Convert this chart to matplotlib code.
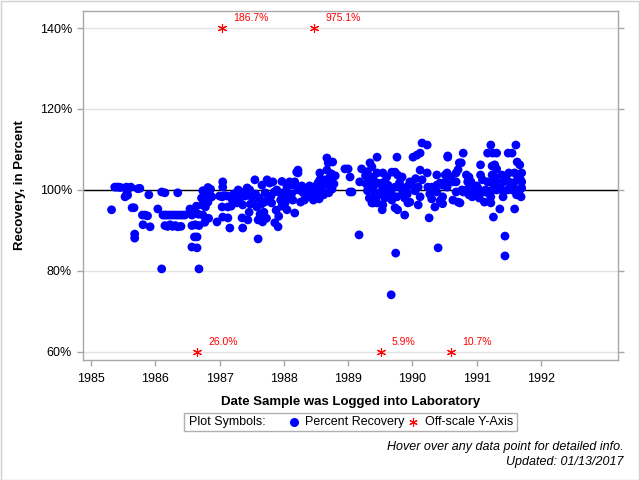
import matplotlib
matplotlib.use('Agg')
import matplotlib.pyplot as plt
from matplotlib.lines import Line2D
from matplotlib.patches import Rectangle

plt.rcParams['font.family'] = ['Liberation Sans', 'DejaVu Sans']

# recovery points: (decimal year, percent recovery)
years = [
    # 1985 - 1986
    1985.32, 1985.37, 1985.40, 1985.43, 1985.46, 1985.55, 1985.58, 1985.62, 1985.56, 1985.53,
    1985.57, 1985.64, 1985.67, 1985.68, 1985.68, 1985.73, 1985.76, 1985.80, 1985.84, 1985.88,
    1985.81, 1985.92, 1985.90, 1986.04,
    # 1986 - 1987
    1986.10, 1986.15, 1986.35, 1986.12, 1986.15, 1986.18, 1986.22, 1986.26, 1986.30, 1986.34,
    1986.38, 1986.42, 1986.46, 1986.15, 1986.19, 1986.23, 1986.27, 1986.31, 1986.35, 1986.40,
    1986.54, 1986.57, 1986.60, 1986.67, 1986.57, 1986.62, 1986.68, 1986.61, 1986.65, 1986.57,
    1986.65, 1986.10, 1986.68, 1986.64, 1986.73, 1986.74, 1986.72, 1986.76, 1986.78, 1986.80,
    1986.80, 1986.82, 1986.84, 1986.74, 1986.86, 1986.88, 1986.77, 1986.83, 1986.82, 1986.79,
    # 1987 - 1988
    1986.96, 1987.05, 1987.05, 1987.00, 1987.04, 1987.08, 1987.12, 1987.04, 1987.13, 1987.05,
    1987.13, 1987.16, 1987.29, 1987.27, 1987.36, 1987.35, 1987.44, 1987.36, 1987.47, 1987.50,
    1987.55, 1987.52, 1987.58, 1987.60, 1987.67, 1987.60, 1987.66, 1987.71, 1987.74, 1987.78,
    1987.83, 1987.75, 1987.81, 1987.86, 1987.91, 1987.89, 1987.94, 1987.20, 1987.22, 1987.40,
    1987.43, 1987.48, 1987.62, 1987.65, 1987.70, 1987.80, 1987.85, 1987.95, 1987.18, 1987.32,
    1987.38, 1987.46, 1987.56, 1987.63, 1987.69, 1987.73, 1987.88, 1987.92, 1987.97,
    # 1988 - 1989
    1987.97, 1988.05, 1988.02, 1987.99, 1988.02, 1988.05, 1988.17, 1988.14, 1988.17, 1988.22,
    1988.22, 1988.22, 1988.30, 1988.36, 1988.41, 1988.46, 1988.46, 1988.53, 1988.56, 1988.56,
    1988.67, 1988.69, 1988.76, 1988.67, 1988.72, 1988.67, 1988.72, 1988.61, 1988.28, 1988.33,
    1988.38, 1988.44, 1988.50, 1988.55, 1988.58, 1988.64, 1988.70, 1988.74, 1988.78, 1988.62,
    1988.26, 1988.09, 1988.09, 1988.14, 1988.20, 1988.12, 1988.32, 1988.40, 1988.49, 1988.60,
    1988.80, 1988.75, 1988.70,
    # 1989 - 1990.5
    1988.95, 1989.00, 1989.03, 1989.03, 1989.06, 1989.18, 1989.21, 1989.27, 1989.30, 1989.34,
    1989.37, 1989.31, 1989.39, 1989.34, 1989.42, 1989.37, 1989.45, 1989.46, 1989.28, 1989.30,
    1989.33, 1989.36, 1989.40, 1989.43, 1989.39, 1989.45, 1989.54, 1989.53, 1989.45, 1989.54,
    1989.60, 1989.53, 1989.57, 1989.62, 1989.60, 1989.53, 1989.64, 1989.68, 1989.57, 1989.68,
    1989.68, 1989.73, 1989.76, 1989.77, 1989.84, 1989.73, 1989.81, 1989.91, 1989.76, 1989.88,
    1989.77, 1989.73, 1989.88, 1989.93, 1989.96, 1989.96, 1989.99, 1990.01, 1990.07, 1990.12,
    1990.15, 1990.23, 1990.12, 1990.15, 1990.23, 1990.09, 1990.12, 1990.09, 1990.24, 1990.30,
    1990.38, 1990.43, 1990.38, 1990.27, 1990.30, 1990.38, 1990.43, 1990.35, 1990.26, 1990.51,
    1990.54, 1990.55, 1990.48, 1990.54, 1989.17, 1989.74, 1990.40, 1989.67, 1989.85, 1989.92,
    1990.04, 1990.05, 1989.80, 1989.50,
    # 1990.5 - 1991.75
    1990.55, 1990.79, 1990.55, 1990.52, 1990.47, 1990.47, 1990.47, 1990.60, 1990.68, 1990.71,
    1990.73, 1990.76, 1990.63, 1990.68, 1990.68, 1990.63, 1990.71, 1990.74, 1990.84, 1990.88,
    1990.86, 1990.91, 1990.84, 1990.91, 1990.79, 1990.77, 1990.88, 1990.93, 1991.06, 1991.17,
    1991.22, 1991.06, 1991.09, 1991.17, 1991.14, 1991.10, 1991.17, 1991.22, 1991.22, 1991.26,
    1991.24, 1991.28, 1991.31, 1991.24, 1991.28, 1991.31, 1991.25, 1991.31, 1991.24, 1991.25,
    1991.31, 1991.39, 1991.45, 1991.50, 1991.42, 1991.50, 1991.39, 1991.48, 1991.55, 1991.62,
    1991.41, 1991.36, 1991.49, 1991.55, 1991.61, 1991.63, 1991.67, 1991.59, 1991.64, 1991.70,
    1991.68, 1991.70, 1991.59, 1991.67, 1991.70, 1991.62, 1991.69, 1991.59, 1991.44, 1991.44,
    1991.00, 1991.03, 1991.04, 1991.12, 1990.97, 1991.35, 1991.58,
]
recovery = [
    95.1, 100.7, 100.7, 100.7, 100.6, 100.7, 100.5, 100.7, 99.2, 98.3,
    98.7, 95.6, 95.6, 89.1, 88.1, 100.3, 100.4, 93.8, 93.8, 93.6,
    91.4, 90.9, 98.8, 95.3,
    99.5, 99.3, 99.3, 93.8, 93.8, 93.8, 93.8, 93.8, 93.8, 93.8,
    93.8, 93.8, 93.8, 91.2, 91.0, 91.4, 91.0, 91.2, 90.9, 91.0,
    95.3, 93.8, 94.3, 94.0, 91.2, 91.4, 91.2, 88.4, 88.4, 85.9,
    85.7, 80.5, 80.5, 96.0, 96.3, 93.8, 98.0, 97.5, 95.8, 100.0,
    98.5, 97.0, 99.5, 99.8, 100.2, 98.3, 92.0, 93.0, 100.6, 99.3,
    92.1, 102.0, 100.7, 98.5, 98.3, 98.6, 98.5, 95.8, 95.8, 93.3,
    93.1, 90.6, 100.0, 96.8, 96.3, 93.1, 92.6, 90.6, 100.0, 98.3,
    102.5, 96.8, 95.8, 92.6, 92.1, 87.9, 101.2, 99.3, 102.5, 101.7,
    102.0, 97.5, 96.8, 91.9, 90.9, 100.0, 99.3, 97.5, 99.0, 98.5,
    100.5, 96.5, 98.0, 96.5, 97.0, 98.5, 99.5, 97.5, 96.0, 98.0,
    99.5, 94.5, 99.0, 94.0, 94.5, 93.0, 95.0, 93.5, 96.0,
    102.1, 100.7, 99.5, 98.8, 96.8, 95.1, 94.3, 101.2, 102.0, 104.9,
    104.2, 100.0, 99.3, 98.8, 98.3, 97.5, 100.7, 101.7, 102.5, 104.2,
    107.9, 106.7, 106.9, 104.9, 103.2, 101.7, 100.7, 99.3, 101.0, 100.2,
    99.8, 99.0, 98.3, 97.8, 99.5, 102.5, 102.0, 104.0, 101.5, 98.8,
    97.0, 102.0, 98.0, 97.5, 104.4, 99.0, 97.5, 101.0, 100.0, 101.0,
    103.5, 100.2, 99.3,
    105.2, 105.2, 103.2, 99.5, 99.5, 102.0, 105.2, 103.5, 104.5, 106.7,
    105.7, 103.2, 103.2, 100.7, 99.3, 96.8, 108.1, 101.7, 101.5, 99.8,
    98.0, 102.0, 101.0, 97.8, 96.8, 96.8, 96.3, 95.1, 104.2, 104.2,
    103.2, 101.7, 102.0, 101.2, 100.0, 100.0, 99.3, 98.8, 98.0, 97.5,
    104.4, 104.4, 108.1, 103.7, 103.2, 100.7, 100.7, 100.7, 98.3, 98.0,
    95.1, 95.6, 93.8, 96.8, 97.0, 102.0, 101.2, 108.1, 108.6, 109.1,
    111.6, 111.1, 104.9, 102.5, 104.2, 100.7, 98.3, 96.3, 100.7, 100.7,
    101.2, 101.7, 103.7, 99.0, 97.8, 99.5, 97.3, 95.8, 93.1, 103.7,
    104.2, 108.1, 101.7, 100.7, 88.9, 84.4, 85.7, 74.1, 99.5, 99.0,
    99.8, 102.8, 101.8, 99.0,
    108.4, 109.1, 103.2, 101.5, 101.2, 98.3, 96.6, 103.2, 104.2, 105.0,
    106.7, 106.7, 102.0, 102.0, 99.5, 97.5, 97.0, 96.8, 103.7, 103.2,
    102.0, 102.0, 100.0, 100.0, 99.5, 100.0, 98.8, 98.3, 106.2, 109.1,
    111.1, 103.7, 102.5, 102.0, 100.0, 99.5, 99.3, 98.3, 96.8, 93.3,
    105.9, 106.2, 105.2, 103.7, 103.2, 102.0, 101.7, 100.0, 100.0, 109.1,
    109.1, 103.7, 103.2, 104.2, 102.0, 102.0, 100.0, 100.0, 100.0, 100.0,
    98.3, 95.3, 109.1, 109.1, 111.1, 106.9, 106.2, 104.2, 103.2, 104.2,
    102.5, 102.0, 100.0, 100.0, 100.5, 98.8, 98.3, 95.3, 88.6, 83.7,
    101.0, 100.2, 98.0, 97.0, 99.0, 101.0, 101.8,
]

# points outside the plotted range, drawn at the axis edge
off_years = [1987.04, 1988.47, 1986.65, 1989.51, 1990.60]
off_edge = [140, 140, 60, 60, 60]
off_labels = ['186.7%', '975.1%', '26.0%', '5.9%', '10.7%']

year_ticks = [1985, 1986, 1987, 1988, 1989, 1990, 1991, 1992]
pct_ticks = [60, 80, 100, 120, 140]

spine_col = '#a8a8a8'

fig = plt.figure(figsize=(6.4, 4.8), dpi=100)
ax = fig.add_axes([83 / 640, 120 / 480, 535 / 640, 349 / 480])

for v in pct_ticks:
    ax.axhline(v, color='#e2e2e2', lw=1, zorder=0)
ax.axhline(100, color='black', lw=1, zorder=1)

ax.scatter(years, recovery, s=40, color='#0000ff', edgecolors='none', zorder=3)
ax.plot(off_years, off_edge, ls='none', marker=(6, 2, 0), ms=6.5, mew=0.8,
        color='#ff0000', zorder=4)
for x, y, lab in zip(off_years, off_edge, off_labels):
    ax.annotate(lab, (x, y), xytext=(8, 7), textcoords='offset points',
                fontsize=7.5, color='#ff0000', va='center', ha='left')

ax.set_xlim(1984.876, 1993.198)
ax.set_ylim(58.0, 144.2)
ax.set_xticks(year_ticks)
ax.set_yticks(pct_ticks)
ax.set_yticklabels([f'{v}%' for v in pct_ticks])
ax.tick_params(axis='both', colors=spine_col, labelcolor='black', labelsize=9,
               length=4.5, width=1)
ax.tick_params(axis='y', right=True)
ax.tick_params(axis='x', pad=5)
for s in ax.spines.values():
    s.set_color(spine_col)
    s.set_linewidth(1)

ax.set_xlabel('Date Sample was Logged into Laboratory', fontsize=9.5,
              fontweight='bold', labelpad=8)
ax.set_ylabel('Recovery, in Percent', fontsize=9.5, fontweight='bold')
ax.yaxis.set_label_coords(-0.107, 0.5)

# legend box drawn by hand so the caption sits inline
fig.add_artist(Rectangle((184 / 640, 1 - 431 / 480), 333 / 640, 18 / 480,
                         transform=fig.transFigure, facecolor='white',
                         edgecolor='#b0b0b0', lw=1))
ly = 1 - 422 / 480
fig.text(189 / 640, ly, 'Plot Symbols:', fontsize=9, va='center')
fig.add_artist(Line2D([294 / 640], [ly], transform=fig.transFigure, ls='none',
                      marker='o', ms=6.5, color='#0000ff', mec='none'))
fig.text(305 / 640, ly, 'Percent Recovery', fontsize=9, va='center')
fig.add_artist(Line2D([413 / 640], [ly], transform=fig.transFigure, ls='none',
                      marker=(6, 2, 0), ms=6, mew=0.8, color='#ff0000'))
fig.text(425 / 640, ly, 'Off-scale Y-Axis', fontsize=9, va='center')

fig.text(624 / 640, 1 - 447 / 480, 'Hover over any data point for detailed info.',
         fontsize=9, style='italic', ha='right', va='center')
fig.text(624 / 640, 1 - 462 / 480, 'Updated: 01/13/2017',
         fontsize=9, style='italic', ha='right', va='center')

# thin frame around the whole image
fig.add_artist(Rectangle((0.5 / 640, 0.5 / 480), 638.5 / 640, 478.5 / 480,
                         transform=fig.transFigure, fill=False,
                         edgecolor='#d0d0d0', lw=1))

fig.savefig('out.png', dpi=100)
